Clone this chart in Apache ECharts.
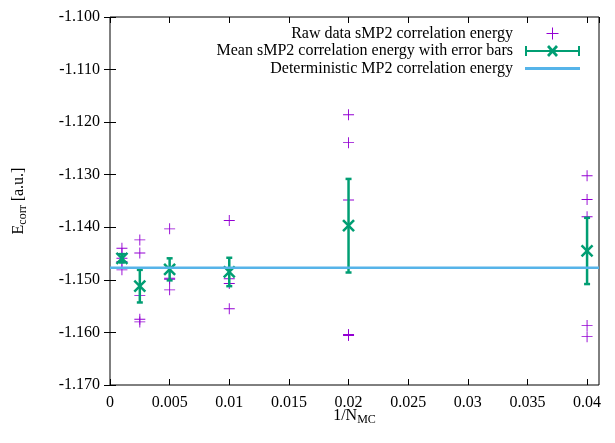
<!DOCTYPE html>
<html>
<head>
<meta charset="utf-8">
<script src="https://cdn.jsdelivr.net/npm/echarts@6/dist/echarts.min.js"></script>
<style>html,body{margin:0;padding:0;background:#fff}#c{width:615px;height:443px}</style>
</head>
<body>
<div id="c"></div>
<script>
// ---- data ----
const invN = [0.001, 0.0025, 0.005, 0.01, 0.02, 0.04];
const raw0001 = [-1.1440, -1.1450, -1.1459, -1.1465, -1.1481];
const raw0025 = [-1.1424, -1.1449, -1.1530, -1.1575, -1.1580];
const raw0050 = [-1.1403, -1.1478, -1.1497, -1.1499, -1.1519];
const raw0100 = [-1.1387, -1.1478, -1.1498, -1.1507, -1.1555];
const raw0200 = [-1.1186, -1.1239, -1.1348, -1.1604, -1.1606];
const raw0400 = [-1.1302, -1.1347, -1.1380, -1.1587, -1.1608];
const meanVals = [-1.1459, -1.1512, -1.1480, -1.1485, -1.1397, -1.1445];
const errVals = [0.0008, 0.0031, 0.0021, 0.0027, 0.0089, 0.0063];
const detMP2 = -1.1477;
const xMin = 0, xMax = 0.041, xStep = 0.005;
const yMin = -1.170, yMax = -1.100, yStep = 0.010;
const seriesNames = ['Raw data sMP2 correlation energy', 'Mean sMP2 correlation energy with error bars', 'Deterministic MP2 correlation energy'];

const rawGroups = [raw0001, raw0025, raw0050, raw0100, raw0200, raw0400];
const rawData = [];
rawGroups.forEach((g, i) => g.forEach(v => rawData.push([invN[i], v])));
const meanData = invN.map((x, i) => [x, meanVals[i], errVals[i]]);
const detData = [[xMin, detMP2], [xMax, detMP2]];

const FONT = 'Liberation Serif';
const PURPLE = '#9400D3', GREEN = '#009E73', BLUE = '#56B4E9';
const plusPath = 'path://M0,5.5H12V6.5H0Z M5.5,0H6.5V12H5.5Z';
const meanIcon = 'path://M0,5H55V7H0Z M0,1H2V11H0Z M53,1H55V11H53Z M22,2L24,0L33,10L31,12Z M31,0L33,2L24,12L22,10Z';
const lineIcon = 'path://M0,0H55V3H0Z';

const chart = echarts.init(document.getElementById('c'), null, {renderer: 'canvas'});
const xFmt = v => String(parseFloat(v.toFixed(4)));
const yFmt = v => v.toFixed(3);
const axisCommon = {
  axisLine: {show: false},
  splitLine: {show: false},
  axisTick: {show: true, inside: true, length: 6, lineStyle: {color: '#000', width: 1}},
};
chart.setOption({
  animation: false,
  textStyle: {fontFamily: FONT},
  grid: {left: 110, right: 16, top: 17, bottom: 58, show: true, borderColor: '#000', borderWidth: 1, backgroundColor: 'transparent'},
  legend: {
    orient: 'vertical', align: 'right', right: 35, top: 25.5, padding: 0,
    itemWidth: 55, itemHeight: 12, itemGap: 1.5,
    textStyle: {fontFamily: FONT, fontSize: 16, color: '#000', padding: [0, 7, 0, 0]},
    data: [
      {name: seriesNames[0], icon: plusPath, itemStyle: {color: PURPLE}},
      {name: seriesNames[1], icon: meanIcon, itemStyle: {color: GREEN}},
      {name: seriesNames[2], icon: lineIcon, itemStyle: {color: BLUE}}
    ],
    selectedMode: false
  },
  xAxis: [
    Object.assign({}, axisCommon, {
      type: 'value', min: xMin, max: xMax, interval: xStep, position: 'bottom',
      axisLabel: {formatter: xFmt, showMaxLabel: false, color: '#000', fontSize: 16, fontFamily: FONT, margin: 10},
      name: '1/N{sub|MC}', nameLocation: 'middle', nameGap: 21, nameMoveOverlap: false,
      nameTextStyle: {color: '#000', fontSize: 16, fontFamily: FONT, rich: {sub: {fontSize: 12, fontFamily: FONT, padding: [8, 0, 0, 0]}}}
    }),
    Object.assign({}, axisCommon, {
      type: 'value', min: xMin, max: xMax, interval: xStep, position: 'top',
      axisLabel: {show: false}
    })
  ],
  yAxis: [
    Object.assign({}, axisCommon, {
      type: 'value', min: yMin, max: yMax, interval: yStep, position: 'left',
      axisLabel: {formatter: yFmt, color: '#000', fontSize: 16, fontFamily: FONT, margin: 10},
      name: 'E{sub|corr} [a.u.]', nameLocation: 'middle', nameGap: 81, nameRotate: 90, nameMoveOverlap: false,
      nameTextStyle: {color: '#000', fontSize: 16, fontFamily: FONT, rich: {sub: {fontSize: 12, fontFamily: FONT, padding: [8, 0, 0, 0]}}}
    }),
    Object.assign({}, axisCommon, {
      type: 'value', min: yMin, max: yMax, interval: yStep, position: 'right',
      axisLabel: {show: false}
    })
  ],
  series: [
    {
      name: seriesNames[0], type: 'scatter', data: rawData,
      symbol: plusPath, symbolSize: 11, itemStyle: {color: PURPLE, opacity: 1}, z: 2
    },
    {
      name: seriesNames[1], type: 'custom', data: meanData, z: 3,
      itemStyle: {color: GREEN},
      renderItem: function (params, api) {
        const x = api.value(0), m = api.value(1), e = api.value(2);
        const c = api.coord([x, m]);
        const t = api.coord([x, m + e]);
        const b = api.coord([x, m - e]);
        const st = {stroke: GREEN, lineWidth: 2.5, fill: null};
        const cw = 3, xs = 5.5;
        return {type: 'group', children: [
          {type: 'line', shape: {x1: c[0], y1: t[1], x2: c[0], y2: b[1]}, style: st},
          {type: 'line', shape: {x1: c[0] - cw, y1: t[1], x2: c[0] + cw, y2: t[1]}, style: st},
          {type: 'line', shape: {x1: c[0] - cw, y1: b[1], x2: c[0] + cw, y2: b[1]}, style: st},
          {type: 'line', shape: {x1: c[0] - xs, y1: c[1] - xs, x2: c[0] + xs, y2: c[1] + xs}, style: st},
          {type: 'line', shape: {x1: c[0] - xs, y1: c[1] + xs, x2: c[0] + xs, y2: c[1] - xs}, style: st}
        ]};
      }
    },
    {
      name: seriesNames[2], type: 'line', data: detData, z: 4,
      showSymbol: false, symbol: 'none', silent: true,
      itemStyle: {color: BLUE}, lineStyle: {color: BLUE, width: 2.5}
    }
  ]
});
</script>
</body>
</html>
